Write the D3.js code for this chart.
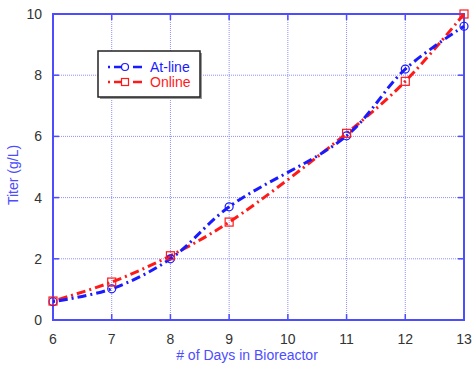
<!DOCTYPE html>
<html><head><meta charset="utf-8">
<script src="https://cdn.jsdelivr.net/npm/d3@7"></script>
<style>body{margin:0;background:#fff}svg{display:block}text{font-family:Arial,"Liberation Sans",sans-serif}</style>
</head><body><svg id="c" width="476" height="369"></svg>
<script>
const days = [6, 7, 8, 9, 11, 12, 13];
const atline = [0.6, 1.02, 2.0, 3.7, 6.02, 8.2, 9.6];
const online = [0.62, 1.24, 2.1, 3.2, 6.1, 7.8, 10.0];
const xTicks = [6, 7, 8, 9, 10, 11, 12, 13];
const yTicks = [0, 2, 4, 6, 8, 10];
const seriesNames = ["At-line", "Online"];

const svg = d3.select("#c");
const L = 53, R = 464, T = 14, B = 320;
const x = d3.scaleLinear().domain([6, 13]).range([L, R]);
const y = d3.scaleLinear().domain([0, 10]).range([B, T]);
const blue = "#1a1aff", red = "#ff1a1a", axisBlue = "#4d4dff";

// grid
const g = svg.append("g");
g.selectAll(".gx").data(xTicks).enter().append("line")
  .attr("x1", d => x(d)).attr("x2", d => x(d)).attr("y1", T).attr("y2", B)
  .attr("stroke", "#8f8fff").attr("stroke-width", 1).attr("stroke-dasharray", "1,1");
g.selectAll(".gy").data(yTicks).enter().append("line")
  .attr("y1", d => y(d)).attr("y2", d => y(d)).attr("x1", L).attr("x2", R)
  .attr("stroke", "#8f8fff").attr("stroke-width", 1).attr("stroke-dasharray", "1,1");

// inner ticks
xTicks.forEach(d => {
  svg.append("line").attr("x1", x(d)).attr("x2", x(d)).attr("y1", B).attr("y2", B - 6).attr("stroke", axisBlue).attr("stroke-width", 1.5);
  svg.append("line").attr("x1", x(d)).attr("x2", x(d)).attr("y1", T).attr("y2", T + 6).attr("stroke", axisBlue).attr("stroke-width", 1.5);
});
yTicks.forEach(d => {
  svg.append("line").attr("y1", y(d)).attr("y2", y(d)).attr("x1", L).attr("x2", L + 6).attr("stroke", axisBlue).attr("stroke-width", 1.5);
  svg.append("line").attr("y1", y(d)).attr("y2", y(d)).attr("x1", R).attr("x2", R - 6).attr("stroke", axisBlue).attr("stroke-width", 1.5);
});

// frame
svg.append("rect").attr("x", L).attr("y", T).attr("width", R - L).attr("height", B - T)
  .attr("fill", "none").attr("stroke", axisBlue).attr("stroke-width", 2);

// tick labels
svg.selectAll(".xl").data(xTicks).enter().append("text")
  .attr("x", d => x(d)).attr("y", 344).attr("text-anchor", "middle")
  .attr("font-size", 14).attr("fill", "#333").text(d => d);
svg.selectAll(".yl").data(yTicks).enter().append("text")
  .attr("x", 42).attr("y", d => y(d) + 5).attr("text-anchor", "end")
  .attr("font-size", 14).attr("fill", "#333").text(d => d);

// axis titles
svg.append("text").attr("x", 247).attr("y", 360).attr("text-anchor", "middle")
  .attr("font-size", 14).attr("fill", axisBlue).text("# of Days in Bioreactor");
svg.append("text").attr("transform", "translate(18,175) rotate(-90)").attr("text-anchor", "middle")
  .attr("font-size", 14).attr("fill", axisBlue).text("Titer (g/L)");

// lines
const line = d3.line().x(d => x(d[0])).y(d => y(d[1])).curve(d3.curveCatmullRom.alpha(0.5));
const dash = "2,4,9,4";
const sA = days.map((d, i) => [d, atline[i]]);
const sO = days.map((d, i) => [d, online[i]]);
svg.append("path").attr("d", line(sO)).attr("fill", "none").attr("stroke", red).attr("stroke-width", 3).attr("stroke-dasharray", dash);
svg.append("path").attr("d", line(sA)).attr("fill", "none").attr("stroke", blue).attr("stroke-width", 3).attr("stroke-dasharray", dash);

// markers
svg.selectAll(".mA").data(sA).enter().append("circle")
  .attr("cx", d => x(d[0])).attr("cy", d => y(d[1])).attr("r", 4)
  .attr("fill", "none").attr("stroke", blue).attr("stroke-width", 1.2);
svg.selectAll(".mO").data(sO).enter().append("rect")
  .attr("x", d => x(d[0]) - 4).attr("y", d => y(d[1]) - 4).attr("width", 8).attr("height", 8)
  .attr("fill", "none").attr("stroke", red).attr("stroke-width", 1.2);

// legend
const lg = svg.append("g");
lg.append("rect").attr("x", 100).attr("y", 53).attr("width", 102).attr("height", 46).attr("fill", "#999");
lg.append("rect").attr("x", 98).attr("y", 51).attr("width", 102).attr("height", 46)
  .attr("fill", "#fff").attr("stroke", "#222").attr("stroke-width", 1.5);
const cols = [blue, red];
seriesNames.forEach((n, i) => {
  const yy = 67 + i * 15;
  lg.append("line").attr("x1", 108).attr("x2", 142).attr("y1", yy).attr("y2", yy)
    .attr("stroke", cols[i]).attr("stroke-width", 2.5).attr("stroke-dasharray", dash);
  if (i === 0) lg.append("circle").attr("cx", 125).attr("cy", yy).attr("r", 3.5).attr("fill", "#fff").attr("stroke", cols[i]).attr("stroke-width", 1.2);
  else lg.append("rect").attr("x", 121.5).attr("y", yy - 3.5).attr("width", 7).attr("height", 7).attr("fill", "#fff").attr("stroke", cols[i]).attr("stroke-width", 1.2);
  lg.append("text").attr("x", 150).attr("y", yy + 5).attr("font-size", 14).attr("fill", cols[i]).text(n);
});
</script></body></html>
